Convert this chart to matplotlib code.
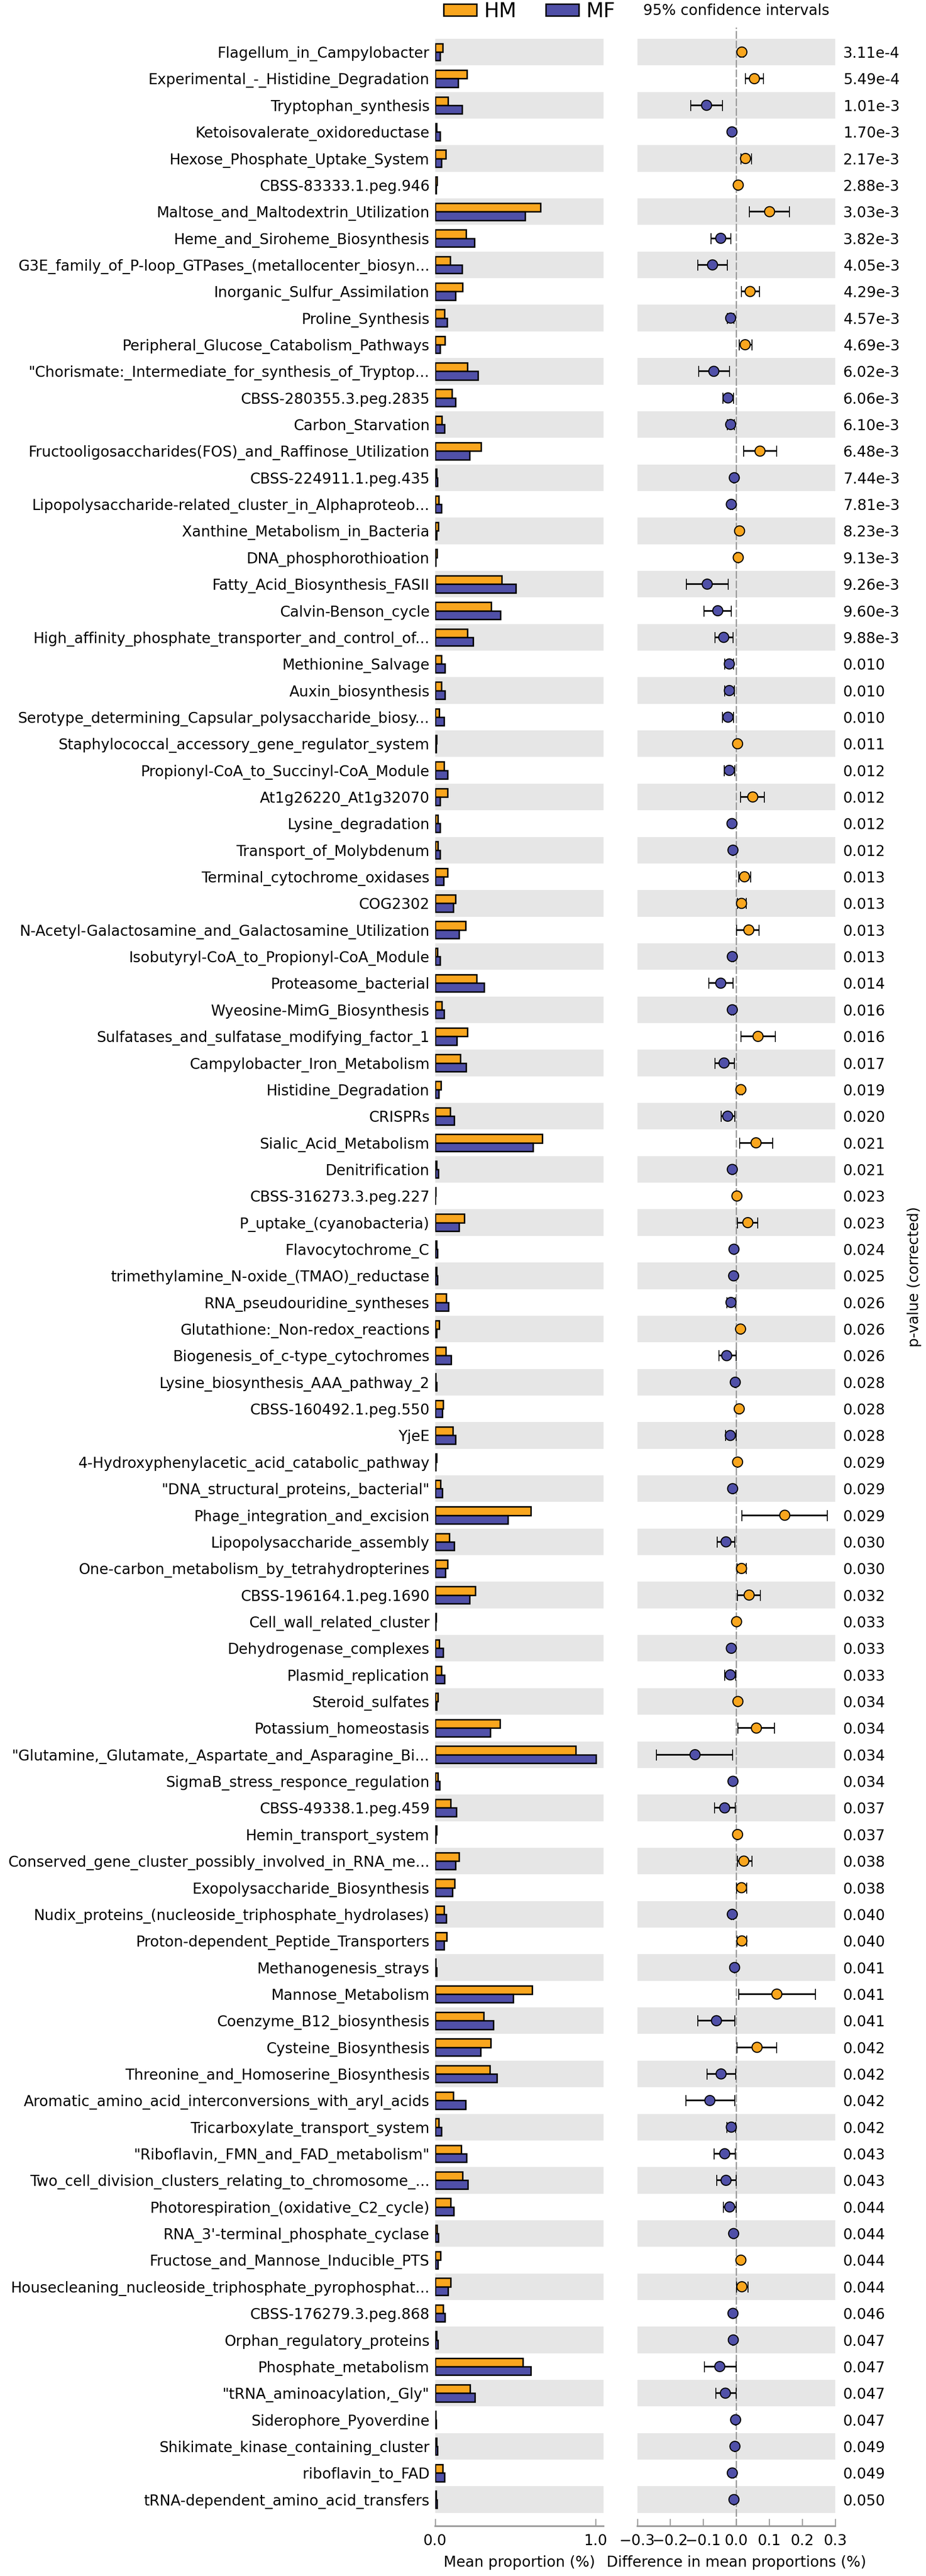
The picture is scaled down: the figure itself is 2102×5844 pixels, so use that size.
"""
Extended error bar plot: mean proportions of HM vs MF and the
difference in mean proportions with 95% confidence intervals.
"""

import numpy as np
import matplotlib

matplotlib.use("Agg")
import matplotlib.pyplot as plt
from matplotlib.patches import Patch

# ---------------------------------------------------------------------------
# Data (top row first)
# ---------------------------------------------------------------------------
features = [
    "Flagellum_in_Campylobacter",
    "Experimental_-_Histidine_Degradation",
    "Tryptophan_synthesis",
    "Ketoisovalerate_oxidoreductase",
    "Hexose_Phosphate_Uptake_System",
    "CBSS-83333.1.peg.946",
    "Maltose_and_Maltodextrin_Utilization",
    "Heme_and_Siroheme_Biosynthesis",
    "G3E_family_of_P-loop_GTPases_(metallocenter_biosyn...",
    "Inorganic_Sulfur_Assimilation",
    "Proline_Synthesis",
    "Peripheral_Glucose_Catabolism_Pathways",
    '"Chorismate:_Intermediate_for_synthesis_of_Tryptop...',
    "CBSS-280355.3.peg.2835",
    "Carbon_Starvation",
    "Fructooligosaccharides(FOS)_and_Raffinose_Utilization",
    "CBSS-224911.1.peg.435",
    "Lipopolysaccharide-related_cluster_in_Alphaproteob...",
    "Xanthine_Metabolism_in_Bacteria",
    "DNA_phosphorothioation",
    "Fatty_Acid_Biosynthesis_FASII",
    "Calvin-Benson_cycle",
    "High_affinity_phosphate_transporter_and_control_of...",
    "Methionine_Salvage",
    "Auxin_biosynthesis",
    "Serotype_determining_Capsular_polysaccharide_biosy...",
    "Staphylococcal_accessory_gene_regulator_system",
    "Propionyl-CoA_to_Succinyl-CoA_Module",
    "At1g26220_At1g32070",
    "Lysine_degradation",
    "Transport_of_Molybdenum",
    "Terminal_cytochrome_oxidases",
    "COG2302",
    "N-Acetyl-Galactosamine_and_Galactosamine_Utilization",
    "Isobutyryl-CoA_to_Propionyl-CoA_Module",
    "Proteasome_bacterial",
    "Wyeosine-MimG_Biosynthesis",
    "Sulfatases_and_sulfatase_modifying_factor_1",
    "Campylobacter_Iron_Metabolism",
    "Histidine_Degradation",
    "CRISPRs",
    "Sialic_Acid_Metabolism",
    "Denitrification",
    "CBSS-316273.3.peg.227",
    "P_uptake_(cyanobacteria)",
    "Flavocytochrome_C",
    "trimethylamine_N-oxide_(TMAO)_reductase",
    "RNA_pseudouridine_syntheses",
    "Glutathione:_Non-redox_reactions",
    "Biogenesis_of_c-type_cytochromes",
    "Lysine_biosynthesis_AAA_pathway_2",
    "CBSS-160492.1.peg.550",
    "YjeE",
    "4-Hydroxyphenylacetic_acid_catabolic_pathway",
    '"DNA_structural_proteins,_bacterial"',
    "Phage_integration_and_excision",
    "Lipopolysaccharide_assembly",
    "One-carbon_metabolism_by_tetrahydropterines",
    "CBSS-196164.1.peg.1690",
    "Cell_wall_related_cluster",
    "Dehydrogenase_complexes",
    "Plasmid_replication",
    "Steroid_sulfates",
    "Potassium_homeostasis",
    '"Glutamine,_Glutamate,_Aspartate_and_Asparagine_Bi...',
    "SigmaB_stress_responce_regulation",
    "CBSS-49338.1.peg.459",
    "Hemin_transport_system",
    "Conserved_gene_cluster_possibly_involved_in_RNA_me...",
    "Exopolysaccharide_Biosynthesis",
    "Nudix_proteins_(nucleoside_triphosphate_hydrolases)",
    "Proton-dependent_Peptide_Transporters",
    "Methanogenesis_strays",
    "Mannose_Metabolism",
    "Coenzyme_B12_biosynthesis",
    "Cysteine_Biosynthesis",
    "Threonine_and_Homoserine_Biosynthesis",
    "Aromatic_amino_acid_interconversions_with_aryl_acids",
    "Tricarboxylate_transport_system",
    '"Riboflavin,_FMN_and_FAD_metabolism"',
    "Two_cell_division_clusters_relating_to_chromosome_...",
    "Photorespiration_(oxidative_C2_cycle)",
    "RNA_3'-terminal_phosphate_cyclase",
    "Fructose_and_Mannose_Inducible_PTS",
    "Housecleaning_nucleoside_triphosphate_pyrophosphat...",
    "CBSS-176279.3.peg.868",
    "Orphan_regulatory_proteins",
    "Phosphate_metabolism",
    '"tRNA_aminoacylation,_Gly"',
    "Siderophore_Pyoverdine",
    "Shikimate_kinase_containing_cluster",
    "riboflavin_to_FAD",
    "tRNA-dependent_amino_acid_transfers",
]

p_values = [
    "3.11e-4", "5.49e-4", "1.01e-3", "1.70e-3", "2.17e-3", "2.88e-3",
    "3.03e-3", "3.82e-3", "4.05e-3", "4.29e-3", "4.57e-3", "4.69e-3",
    "6.02e-3", "6.06e-3", "6.10e-3", "6.48e-3", "7.44e-3", "7.81e-3",
    "8.23e-3", "9.13e-3", "9.26e-3", "9.60e-3", "9.88e-3", "0.010",
    "0.010", "0.010", "0.011", "0.012", "0.012", "0.012", "0.012",
    "0.013", "0.013", "0.013", "0.013", "0.014", "0.016", "0.016",
    "0.017", "0.019", "0.020", "0.021", "0.021", "0.023", "0.023",
    "0.024", "0.025", "0.026", "0.026", "0.026", "0.028", "0.028",
    "0.028", "0.029", "0.029", "0.029", "0.030", "0.030", "0.032",
    "0.033", "0.033", "0.033", "0.034", "0.034", "0.034", "0.034",
    "0.037", "0.037", "0.038", "0.038", "0.040", "0.040", "0.041",
    "0.041", "0.041", "0.042", "0.042", "0.042", "0.042", "0.043",
    "0.043", "0.044", "0.044", "0.044", "0.044", "0.046", "0.047",
    "0.047", "0.047", "0.047", "0.049", "0.049", "0.050",
]

hm_mean = [
    0.048, 0.198, 0.080, 0.008, 0.066, 0.012, 0.658, 0.194, 0.094, 0.170,
    0.058, 0.060, 0.202, 0.106, 0.042, 0.286, 0.008, 0.022, 0.020, 0.012,
    0.416, 0.350, 0.200, 0.038, 0.038, 0.026, 0.010, 0.056, 0.078, 0.016,
    0.018, 0.078, 0.126, 0.190, 0.014, 0.260, 0.042, 0.200, 0.156, 0.036,
    0.094, 0.668, 0.010, 0.004, 0.182, 0.010, 0.008, 0.070, 0.026, 0.068,
    0.004, 0.050, 0.110, 0.010, 0.034, 0.596, 0.088, 0.078, 0.250, 0.005,
    0.026, 0.038, 0.016, 0.404, 0.878, 0.016, 0.098, 0.008, 0.150, 0.122,
    0.056, 0.072, 0.004, 0.606, 0.304, 0.346, 0.340, 0.114, 0.022, 0.164,
    0.172, 0.096, 0.012, 0.034, 0.096, 0.050, 0.008, 0.548, 0.218, 0.004,
    0.010, 0.048, 0.006,
]

mf_mean = [
    0.030, 0.144, 0.168, 0.030, 0.038, 0.006, 0.560, 0.244, 0.168, 0.126,
    0.074, 0.032, 0.268, 0.128, 0.058, 0.216, 0.014, 0.040, 0.008, 0.004,
    0.502, 0.406, 0.238, 0.062, 0.062, 0.056, 0.006, 0.078, 0.032, 0.030,
    0.030, 0.054, 0.112, 0.150, 0.030, 0.306, 0.056, 0.134, 0.192, 0.022,
    0.118, 0.610, 0.020, 0.002, 0.148, 0.014, 0.014, 0.084, 0.008, 0.100,
    0.008, 0.044, 0.126, 0.004, 0.046, 0.454, 0.120, 0.064, 0.214, 0.003,
    0.050, 0.058, 0.008, 0.344, 1.004, 0.028, 0.132, 0.004, 0.126, 0.108,
    0.070, 0.056, 0.010, 0.486, 0.364, 0.284, 0.384, 0.190, 0.040, 0.196,
    0.204, 0.116, 0.020, 0.016, 0.080, 0.060, 0.018, 0.598, 0.248, 0.005,
    0.014, 0.058, 0.012,
]

diff = [
    0.017, 0.055, -0.090, -0.013, 0.028, 0.006, 0.101, -0.047, -0.072, 0.042,
    -0.017, 0.027, -0.068, -0.025, -0.017, 0.072, -0.006, -0.015, 0.010, 0.006,
    -0.088, -0.056, -0.038, -0.021, -0.021, -0.025, 0.004, -0.021, 0.050, -0.013,
    -0.010, 0.025, 0.016, 0.038, -0.012, -0.047, -0.012, 0.066, -0.037, 0.014,
    -0.026, 0.060, -0.012, 0.002, 0.035, -0.007, -0.008, -0.016, 0.013, -0.029,
    -0.003, 0.009, -0.018, 0.004, -0.011, 0.147, -0.031, 0.016, 0.039, 0.001,
    -0.015, -0.018, 0.005, 0.061, -0.125, -0.010, -0.035, 0.004, 0.023, 0.016,
    -0.012, 0.017, -0.005, 0.123, -0.060, 0.063, -0.046, -0.080, -0.015, -0.035,
    -0.031, -0.020, -0.008, 0.014, 0.017, -0.010, -0.009, -0.050, -0.033, -0.002,
    -0.004, -0.012, -0.007,
]

ci_low = [
    0.012, 0.028, -0.138, -0.016, 0.014, 0.004, 0.040, -0.077, -0.117, 0.015,
    -0.027, 0.009, -0.114, -0.040, -0.027, 0.022, -0.008, -0.018, 0.008, 0.005,
    -0.151, -0.098, -0.064, -0.035, -0.035, -0.042, 0.003, -0.037, 0.013, -0.015,
    -0.012, 0.008, 0.004, 0.001, -0.014, -0.083, -0.015, 0.014, -0.065, 0.010,
    -0.046, 0.010, -0.014, 0.001, 0.004, -0.008, -0.009, -0.029, 0.011, -0.053,
    -0.004, 0.006, -0.033, 0.003, -0.013, 0.017, -0.058, 0.002, 0.004, 0.000,
    -0.017, -0.035, 0.004, 0.005, -0.242, -0.011, -0.066, 0.003, 0.003, 0.001,
    -0.015, 0.002, -0.006, 0.007, -0.117, 0.002, -0.089, -0.153, -0.028, -0.067,
    -0.059, -0.039, -0.010, 0.011, 0.001, -0.012, -0.011, -0.096, -0.062, -0.003,
    -0.005, -0.015, -0.008,
]

ci_high = [
    0.022, 0.083, -0.042, -0.010, 0.046, 0.008, 0.161, -0.017, -0.027, 0.071,
    -0.007, 0.048, -0.021, -0.009, -0.006, 0.122, -0.004, -0.011, 0.012, 0.008,
    -0.024, -0.015, -0.010, -0.008, -0.006, -0.008, 0.005, -0.004, 0.085, -0.010,
    -0.008, 0.044, 0.030, 0.069, -0.009, -0.010, -0.009, 0.118, -0.006, 0.018,
    -0.005, 0.110, -0.010, 0.003, 0.065, -0.005, -0.006, -0.003, 0.015, -0.001,
    -0.002, 0.011, -0.001, 0.005, -0.008, 0.276, -0.004, 0.030, 0.073, 0.002,
    -0.012, -0.002, 0.006, 0.116, -0.011, -0.008, -0.003, 0.005, 0.047, 0.031,
    -0.009, 0.032, -0.004, 0.240, -0.004, 0.123, -0.002, -0.004, -0.002, -0.003,
    -0.001, -0.001, -0.006, 0.017, 0.035, -0.008, -0.007, -0.001, -0.001, -0.001,
    -0.003, -0.009, -0.006,
]

HM_COLOUR = "#F9A61E"
MF_COLOUR = "#5050A8"
BAND_COLOUR = "#e6e6e6"
AXIS_GREY = "#9a9a9a"

n = len(features)
y = np.arange(n)[::-1]          # first feature drawn at the top
diff = np.array(diff)
lo_err = diff - np.array(ci_low)
hi_err = np.array(ci_high) - diff
dot_colours = [HM_COLOUR if d > 0 else MF_COLOUR for d in diff]

plt.rcParams["font.family"] = "DejaVu Sans"

fig = plt.figure(figsize=(2102 / 300, 5844 / 300), dpi=300)
ax_bar = fig.add_axes([0.4699, 0.01934, 0.1819, 0.97005])
ax_ci = fig.add_axes([0.6882, 0.01934, 0.2138, 0.97005])

# alternating grey bands behind both panels
for ax in (ax_bar, ax_ci):
    for i in range(0, n, 2):
        ax.axhspan(y[i] - 0.5, y[i] + 0.5, color=BAND_COLOUR, lw=0, zorder=0)

# ---------------------------------------------------------------------------
# Left panel: mean proportions
# ---------------------------------------------------------------------------
bar_h = 0.32
ax_bar.barh(y + bar_h / 2, hm_mean, height=bar_h, color=HM_COLOUR,
            edgecolor="black", linewidth=0.8, zorder=2)
ax_bar.barh(y - bar_h / 2, mf_mean, height=bar_h, color=MF_COLOUR,
            edgecolor="black", linewidth=0.8, zorder=2)
ax_bar.set_xlim(0, 1.05)
ax_bar.set_xticks([0.0, 1.0])
ax_bar.set_xticklabels(["0.0", "1.0"])
ax_bar.set_yticks(y)
ax_bar.set_yticklabels(features, fontsize=8)
ax_bar.set_xlabel("Mean proportion (%)", fontsize=8)

# ---------------------------------------------------------------------------
# Right panel: difference in mean proportions with 95% CI
# ---------------------------------------------------------------------------
ax_ci.axvline(0, color=AXIS_GREY, lw=0.7, ls=(0, (6, 1.5)), zorder=1)
ax_ci.errorbar(diff, y, xerr=[lo_err, hi_err], fmt="none", ecolor="black",
               elinewidth=0.9, capsize=3, capthick=0.5, zorder=3)
ax_ci.scatter(diff, y, s=30, c=dot_colours, edgecolors="black",
              linewidths=0.6, zorder=4)
ax_ci.set_xlim(-0.3, 0.3)
ax_ci.set_xticks([-0.3, -0.2, -0.1, 0.0, 0.1, 0.2, 0.3])
ax_ci.set_yticks(y)
ax_ci.set_yticklabels(p_values, fontsize=8)
ax_ci.yaxis.tick_right()
ax_ci.set_xlabel("Difference in mean proportions (%)", fontsize=8)

for ax in (ax_bar, ax_ci):
    ax.set_ylim(-1.0, n - 1 + 0.93)
    for side in ("top", "right", "left"):
        ax.spines[side].set_visible(False)
    ax.spines["bottom"].set_color(AXIS_GREY)
    ax.spines["bottom"].set_linewidth(0.9)
    ax.tick_params(axis="x", direction="in", length=4, width=0.6,
                   color=AXIS_GREY, labelsize=8, pad=4)
    ax.tick_params(axis="y", length=0)
ax_bar.tick_params(axis="y", pad=3)
ax_ci.tick_params(axis="y", pad=4.3)

fig.text(2076 / 2102, 0.01934 + 0.97005 / 2, "p-value (corrected)",
         rotation=90, ha="center", va="center", fontsize=8)
fig.text(1671 / 2102, 1 - 25 / 5844, "95% confidence intervals",
         ha="center", va="center", fontsize=8)

handles = [
    Patch(facecolor=HM_COLOUR, edgecolor="black", linewidth=0.8, label="HM"),
    Patch(facecolor=MF_COLOUR, edgecolor="black", linewidth=0.8, label="MF"),
]
fig.legend(handles=handles, loc="upper left",
           bbox_to_anchor=(1007 / 2102, 1 - 4 / 5844), ncol=2,
           frameon=False, fontsize=11, handlelength=1.64, handleheight=0.52,
           handletextpad=0.35, columnspacing=1.46, borderpad=0,
           borderaxespad=0)

fig.savefig("out.png", dpi=300)
plt.close(fig)
